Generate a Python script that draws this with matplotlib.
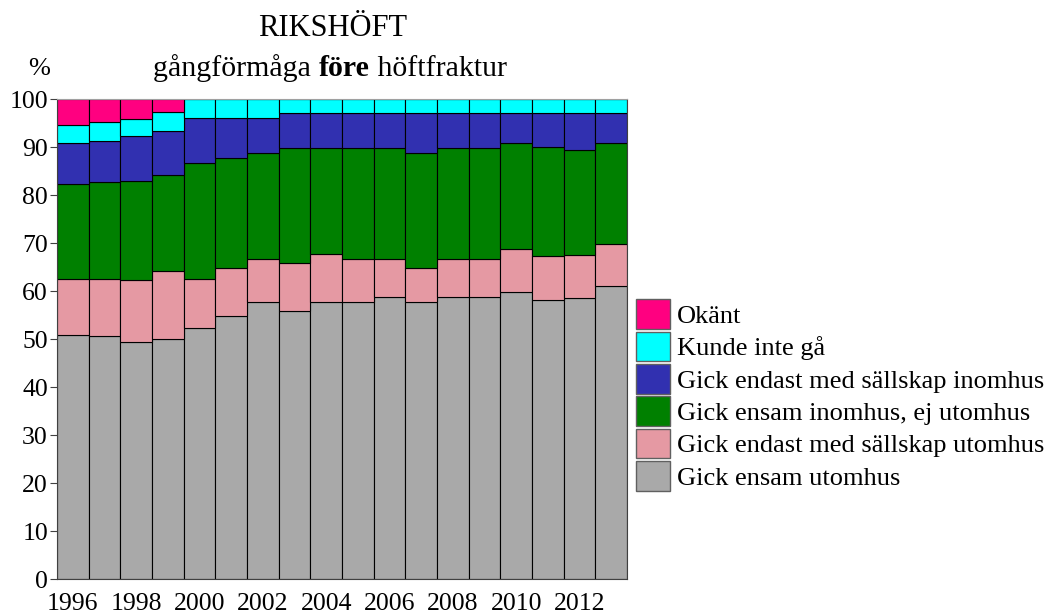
import numpy as np
import matplotlib
matplotlib.use("Agg")
import matplotlib.pyplot as plt
from matplotlib.patches import Patch

plt.rcParams['font.family'] = ['Liberation Serif', 'DejaVu Serif']

years = list(range(1996, 2014))

# percent per category
ensam_ute = [50.8, 50.6, 49.3, 50.1, 52.2, 54.7, 57.8, 55.8, 57.8, 57.8, 58.8, 57.8, 58.8, 58.8, 59.8, 58.1, 58.6, 61.0]
sallskap_ute = [11.7, 11.9, 12.9, 14.0, 10.3, 10.0, 8.9, 10.0, 10.0, 8.9, 7.9, 6.9, 7.9, 7.9, 8.9, 9.1, 9.0, 8.8]
ensam_inne = [19.7, 20.2, 20.7, 20.0, 24.1, 23.0, 22.0, 23.9, 21.9, 23.0, 23.0, 24.1, 23.0, 23.0, 22.1, 22.7, 21.7, 21.0]
sallskap_inne = [8.7, 8.6, 9.3, 9.2, 9.4, 8.3, 7.3, 7.3, 7.3, 7.3, 7.3, 8.2, 7.3, 7.3, 6.2, 7.1, 7.7, 6.2]
kunde_inte = [3.6, 4.0, 3.7, 4.0, 4.0, 4.0, 4.0, 3.0, 3.0, 3.0, 3.0, 3.0, 3.0, 3.0, 3.0, 3.0, 3.0, 3.0]
okant = [5.5, 4.7, 4.1, 2.7, 0, 0, 0, 0, 0, 0, 0, 0, 0, 0, 0, 0, 0, 0]

labels = ["Gick ensam utomhus", "Gick endast med sällskap utomhus",
          "Gick ensam inomhus, ej utomhus", "Gick endast med sällskap inomhus",
          "Kunde inte gå", "Okänt"]
colors = ["#A9A9A9", "#E599A3", "#008000", "#3130B0", "#00FFFF", "#FF0080"]
series = [ensam_ute, sallskap_ute, ensam_inne, sallskap_inne, kunde_inte, okant]

fig = plt.figure(figsize=(10.51, 6.16), dpi=100)
ax = fig.add_axes([57/1051, 1-579/616, (627-57)/1051, (579-99)/616])

x = np.arange(len(years))
bottom = np.zeros(len(years))
for vals, col in zip(series, colors):
    vals = np.array(vals)
    ax.bar(x, vals, width=1.0, bottom=bottom, color=col, edgecolor='black', linewidth=0.8)
    bottom += vals

ax.set_xlim(-0.5, len(years) - 0.5)
ax.set_ylim(0, 100)
ax.set_yticks(range(0, 101, 10))
ax.set_xticks(x[::2])
ax.set_xticklabels([str(y) for y in years[::2]])
ax.tick_params(axis='y', labelsize=18.5, length=5, color='#404040', pad=1.5)
ax.tick_params(axis='x', labelsize=18.5, length=0, pad=10)
for s in ['left', 'bottom', 'right']:
    ax.spines[s].set_color('#404040')
ax.spines['top'].set_color('#A0A0A0')

fig.text(39/1051, 1-69/616, "%", fontsize=19, ha='center', va='center')
fig.text(333/1051, 1-36/616, "RIKSHÖFT", fontsize=22, ha='center', va='baseline')

# subtitle with the middle word in bold
parts = [("gångförmåga ", 'normal'), ("före", 'bold'), (" höftfraktur", 'normal')]
fig.canvas.draw()
r = fig.canvas.get_renderer()
txts = [fig.text(0, 1-76/616, p, fontsize=21.5, fontweight=w, va='baseline') for p, w in parts]
widths = [t.get_window_extent(r).width for t in txts]
xpos = 330 - sum(widths) / 2
for t, w in zip(txts, widths):
    t.set_x(xpos / 1051)
    xpos += w

handles = [Patch(facecolor=c, edgecolor='#606060', linewidth=1.0) for c in colors]
fig.legend(handles[::-1], labels[::-1], loc='center left',
           bbox_to_anchor=(636/1051, 1-395/616), frameon=False, fontsize=19,
           handlelength=1.3, handleheight=1.37, labelspacing=0.09,
           handletextpad=0.25, borderpad=0, borderaxespad=0)

fig.savefig("out.png", dpi=100)
